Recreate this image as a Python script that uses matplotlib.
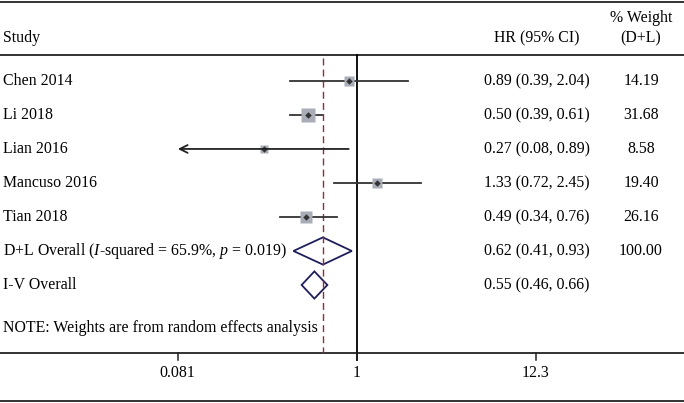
import numpy as np
import matplotlib
matplotlib.use("Agg")
import matplotlib.pyplot as plt

plt.rcParams['font.family'] = 'Liberation Serif'
plt.rcParams['mathtext.fontset'] = 'custom'
plt.rcParams['mathtext.rm'] = 'Liberation Serif'
plt.rcParams['mathtext.it'] = 'Liberation Serif:italic'

# data
studies = ["Chen 2014", "Li 2018", "Lian 2016", "Mancuso 2016", "Tian 2018"]
hr = [0.89, 0.50, 0.27, 1.33, 0.49]
lo = [0.39, 0.39, 0.08, 0.72, 0.34]
hi = [2.04, 0.61, 0.89, 2.45, 0.76]
weights = [14.19, 31.68, 8.58, 19.40, 26.16]

pooled_labels = [r"D+L Overall ($I$-squared = 65.9%, $p$ = 0.019)", "I-V Overall"]
pooled_hr = [0.62, 0.55]
pooled_lo = [0.41, 0.46]
pooled_hi = [0.93, 0.66]
pooled_w = ["100.00", ""]

ticks = [0.081, 1, 12.3]
tick_labels = ["0.081", "1", "12.3"]

fig = plt.figure(figsize=(6.84, 4.03), dpi=100)
ax = fig.add_axes([0, 0, 1, 1])
ax.set_xscale('log')
# 71.3 px per log unit, x=1 at px 357 of 684
ax.set_xlim(np.exp(-357 / 71.3), np.exp(327 / 71.3))
ax.set_ylim(9.47, -2.38)
ax.axis('off')

ink = '#222222'
fs = 11.4
yax = ax.get_yaxis_transform()

# frame lines
for yy in [-2.33, -0.77, 9.41]:
    ax.plot([0, 1], [yy, yy], transform=yax, color=ink, lw=1.3, clip_on=False)
axis_y = 8.0
ax.plot([0, 1], [axis_y, axis_y], transform=yax, color=ink, lw=1.3)

# reference lines
ax.plot([1, 1], [-0.77, axis_y + 0.2], color='black', lw=1.3)
ax.plot([pooled_hr[0]] * 2, [-0.68, axis_y], color='#8b2f3f', lw=1,
        dashes=(5, 3))

# ticks
for t, lab in zip(ticks, tick_labels):
    ax.plot([t, t], [axis_y, axis_y + 0.2], color=ink, lw=1.1)
    ax.text(t, axis_y + 0.6, lab, ha='center', va='center', fontsize=fs)

# headers
ax.text(3 / 684, -1.26, "Study", transform=yax, ha='left', va='center', fontsize=fs)
ax.text(537 / 684, -1.26, "HR (95% CI)", transform=yax, ha='center', va='center', fontsize=fs)
ax.text(641 / 684, -1.85, "% Weight", transform=yax, ha='center', va='center', fontsize=fs)
ax.text(641 / 684, -1.26, "(D+L)", transform=yax, ha='center', va='center', fontsize=fs)

# studies
xmin = ticks[0]
for i, (s, h, l, u, w) in enumerate(zip(studies, hr, lo, hi, weights)):
    if l < xmin:
        ax.annotate('', xy=(xmin, i), xytext=(u, i),
                    arrowprops=dict(arrowstyle='->', color=ink, lw=1.3,
                                    shrinkA=0, shrinkB=0, mutation_scale=14))
    else:
        ax.plot([l, u], [i, i], color='#333333', lw=1.3)
    ax.plot(h, i, marker='s', ms=np.sqrt(w) * 1.75, color='#a9adb7', mec='none')
    ax.plot(h, i, marker='D', ms=3.3, color='#333333', mec='none')
    ax.text(3 / 684, i, s, transform=yax, ha='left', va='center', fontsize=fs)
    ax.text(537 / 684, i, f"{h:.2f} ({l:.2f}, {u:.2f})", transform=yax,
            ha='center', va='center', fontsize=fs)
    ax.text(641 / 684, i, f"{w:.2f}", transform=yax, ha='center', va='center', fontsize=fs)

# pooled estimates
for j, (lab, h, l, u, w) in enumerate(zip(pooled_labels, pooled_hr, pooled_lo, pooled_hi, pooled_w)):
    y = len(studies) + j
    ax.fill([l, h, u, h, l], [y, y - 0.4, y, y + 0.4, y], facecolor='none',
            edgecolor='#1f1f5c', lw=1.3)
    ax.text(3 / 684, y, lab, transform=yax, ha='left', va='center', fontsize=fs)
    ax.text(537 / 684, y, f"{h:.2f} ({l:.2f}, {u:.2f})", transform=yax,
            ha='center', va='center', fontsize=fs)
    if w:
        ax.text(641 / 684, y, w, transform=yax, ha='center', va='center', fontsize=fs)

ax.text(3 / 684, 7.26, "NOTE: Weights are from random effects analysis", transform=yax,
        ha='left', va='center', fontsize=fs)

fig.savefig("out.png", dpi=100)
